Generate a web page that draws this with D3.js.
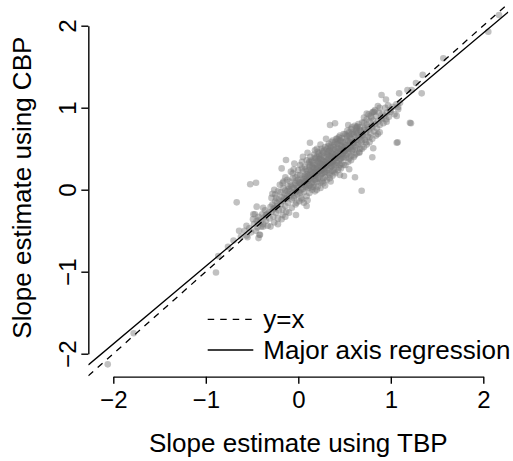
<!DOCTYPE html>
<html>
<head>
<meta charset="utf-8">
<script src="https://cdn.jsdelivr.net/npm/d3@7"></script>
<style>
  html, body { margin: 0; padding: 0; background: #fff; }
  svg { display: block; font-family: "Liberation Sans", Arial, Helvetica, sans-serif; }
</style>
</head>
<body>
<svg id="chart" width="513" height="461"></svg>
<script>
// ---- data ----
const xTicks = [-2, -1, 0, 1, 2];
const yTicks = [-2, -1, 0, 1, 2];
const xLabel = "Slope estimate using TBP";
const yLabel = "Slope estimate using CBP";
const legendLabels = ["y=x", "Major axis regression"];
// major axis regression fit (slope, intercept)
const maSlope = 0.948;
const maIntercept = 0.015;

// outlying / sparse points
const sparsePoints = [
  [-2.06,-2.13],[-1.78,-1.75],[-0.89,-1.01],[-0.865,-0.81],[-0.76,-0.695],[-0.70,-0.62],
  [-0.666,-0.154],[-0.558,-0.56],[-0.52,0.066],[-0.457,0.085],[-0.43,-0.59],[-0.45,-0.207],
  [0.685,-0.012],[1.064,0.573],[1.218,0.81],[1.064,0.90],[1.334,1.175],[1.345,1.40],
  [1.272,1.30],[1.18,1.216],[1.568,1.602],[2.054,1.927],[2.17,2.13],[0.948,1.10],
  [0.955,0.83],[1.08,1.01],[-0.486,-0.30],[-0.43,-0.37],[-0.378,-0.45],[-0.414,-0.55],
  [-0.252,-0.227],[-0.169,-0.309],[-0.025,-0.309],[0.09,-0.199],
  [-0.18,0.26],[-0.133,0.362],[-0.043,0.32],[0.126,0.573],[0.05,0.40],[0.10,0.45],
  [0.20,0.50],[0.24,0.55],[0.343,0.789],[0.397,0.81],[0.54,0.789],[0.63,0.768],[0.30,0.62],[0.18,0.48],
  [0.613,0.151],[0.494,0.167],[0.81,0.505],[0.80,0.395],[0.55,0.25],[0.45,0.18],[0.35,0.10],
  [0.74,0.93],[0.81,0.95],[0.90,1.155],[1.09,1.175],[1.226,1.216],[1.207,0.817],[1.074,0.578],
  [-0.62,-0.57],[-0.64,-0.50]
];

// dense band of points (near the fit line)
const densePoints = [
  [-0.58,-0.50],[-0.55,-0.58],[-0.53,-0.47],[-0.56,-0.44],[-0.51,-0.52],
  [-0.48,-0.42],[-0.46,-0.50],[-0.45,-0.38],[-0.44,-0.46],[-0.43,-0.33],[-0.42,-0.55],[-0.41,-0.40],[-0.47,-0.30],[-0.49,-0.36],[-0.40,-0.45],
  [-0.39,-0.30],[-0.38,-0.42],[-0.37,-0.34],[-0.36,-0.25],[-0.35,-0.38],[-0.34,-0.30],[-0.33,-0.44],[-0.32,-0.28],[-0.31,-0.35],[-0.38,-0.22],[-0.35,-0.31],[-0.30,-0.21],
  [-0.29,-0.27],[-0.28,-0.18],[-0.27,-0.33],[-0.26,-0.22],[-0.25,-0.14],[-0.24,-0.28],[-0.23,-0.20],[-0.22,-0.35],[-0.21,-0.12],[-0.29,-0.10],[-0.27,-0.24],[-0.25,-0.06],[-0.23,-0.16],[-0.21,-0.25],
  [-0.19,-0.18],[-0.18,-0.09],[-0.17,-0.24],[-0.16,-0.13],[-0.15,-0.05],[-0.14,-0.20],[-0.13,-0.11],[-0.12,-0.02],[-0.11,-0.16],[-0.19,-0.03],[-0.18,-0.14],[-0.16,0.02],[-0.15,-0.10],[-0.13,-0.27],[-0.12,-0.07],[-0.11,0.04],[-0.17,0.08],[-0.14,-0.01],
  [-0.10,-0.09],[-0.09,-0.02],[-0.08,0.05],[-0.07,-0.12],[-0.06,-0.04],[-0.05,0.02],[-0.04,-0.08],[-0.03,0.08],[-0.02,-0.01],[-0.01,0.04],[-0.10,0.01],[-0.09,0.10],[-0.08,-0.06],[-0.07,0.03],[-0.06,0.14],[-0.05,-0.10],[-0.04,0.06],[-0.03,-0.03],[-0.02,0.11],[-0.01,-0.06],[-0.06,0.20],[-0.02,-0.16],
  [0.00,0.02],[0.01,0.09],[0.02,-0.04],[0.03,0.06],[0.04,0.14],[0.05,0.01],[0.06,0.08],[0.07,0.17],[0.08,0.03],[0.09,0.11],[0.00,0.12],[0.01,-0.02],[0.02,0.18],[0.03,0.00],[0.04,0.07],[0.05,0.22],[0.06,-0.03],[0.07,0.10],[0.08,0.15],[0.09,0.04],[0.02,0.08],[0.04,0.26],[0.06,0.13],[0.08,0.25],[0.03,-0.10],[0.07,0.05],[0.09,0.19],[0.05,0.10],
  [0.10,0.10],[0.11,0.18],[0.12,0.05],[0.13,0.14],[0.14,0.22],[0.15,0.09],[0.16,0.16],[0.17,0.26],[0.18,0.12],[0.19,0.20],[0.10,0.23],[0.11,0.02],[0.12,0.15],[0.13,0.30],[0.14,0.08],[0.15,0.19],[0.16,0.27],[0.17,0.06],[0.18,0.22],[0.19,0.13],[0.10,0.16],[0.12,0.24],[0.14,0.13],[0.16,0.21],[0.18,0.30],[0.11,0.11],[0.13,0.20],[0.15,0.28],[0.17,0.17],[0.19,0.26],[0.12,0.34],[0.16,0.03],[0.18,0.17],[0.14,0.36],[0.20,0.09],
  [0.20,0.20],[0.21,0.27],[0.22,0.15],[0.23,0.24],[0.24,0.32],[0.25,0.19],[0.26,0.26],[0.27,0.35],[0.28,0.21],[0.29,0.29],[0.20,0.31],[0.21,0.13],[0.22,0.23],[0.23,0.38],[0.24,0.17],[0.25,0.28],[0.26,0.36],[0.27,0.14],[0.28,0.30],[0.29,0.22],[0.20,0.25],[0.22,0.33],[0.24,0.23],[0.26,0.31],[0.28,0.40],[0.21,0.21],[0.23,0.29],[0.25,0.42],[0.27,0.25],[0.29,0.34],[0.22,0.44],[0.24,0.09],[0.26,0.20],[0.28,0.26],[0.21,0.35],[0.25,0.24],[0.27,0.31],[0.29,0.15],
  [0.30,0.29],[0.31,0.36],[0.32,0.24],[0.33,0.33],[0.34,0.41],[0.35,0.28],[0.36,0.35],[0.37,0.44],[0.38,0.30],[0.39,0.38],[0.30,0.40],[0.31,0.21],[0.32,0.32],[0.33,0.47],[0.34,0.26],[0.35,0.37],[0.36,0.45],[0.37,0.23],[0.38,0.39],[0.39,0.31],[0.30,0.34],[0.32,0.42],[0.34,0.32],[0.36,0.40],[0.38,0.49],[0.31,0.30],[0.33,0.38],[0.35,0.51],[0.37,0.34],[0.39,0.43],[0.32,0.53],[0.34,0.18],[0.36,0.29],[0.38,0.35],[0.31,0.44],[0.35,0.33],[0.37,0.40],[0.39,0.24],
  [0.40,0.38],[0.41,0.45],[0.42,0.33],[0.43,0.42],[0.44,0.50],[0.45,0.37],[0.46,0.44],[0.47,0.53],[0.48,0.39],[0.49,0.47],[0.40,0.49],[0.41,0.30],[0.42,0.41],[0.43,0.56],[0.44,0.35],[0.45,0.46],[0.46,0.54],[0.47,0.32],[0.48,0.48],[0.49,0.40],[0.40,0.43],[0.42,0.51],[0.44,0.41],[0.46,0.49],[0.48,0.58],[0.41,0.39],[0.43,0.47],[0.45,0.60],[0.47,0.43],[0.49,0.52],[0.42,0.62],[0.44,0.27],[0.46,0.38],[0.48,0.44],
  [0.50,0.47],[0.51,0.54],[0.52,0.42],[0.53,0.51],[0.54,0.59],[0.55,0.46],[0.56,0.53],[0.57,0.62],[0.58,0.48],[0.59,0.56],[0.50,0.58],[0.51,0.39],[0.52,0.50],[0.53,0.65],[0.54,0.44],[0.55,0.55],[0.56,0.63],[0.57,0.41],[0.58,0.57],[0.59,0.49],[0.50,0.52],[0.52,0.60],[0.54,0.50],[0.56,0.58],[0.58,0.68],[0.51,0.48],[0.55,0.70],[0.57,0.52],
  [0.60,0.57],[0.61,0.64],[0.62,0.52],[0.63,0.61],[0.64,0.69],[0.65,0.56],[0.66,0.63],[0.67,0.72],[0.68,0.58],[0.69,0.66],[0.60,0.68],[0.61,0.49],[0.62,0.60],[0.63,0.75],[0.64,0.54],[0.65,0.65],[0.66,0.73],[0.67,0.50],[0.68,0.67],[0.69,0.60],[0.62,0.70],[0.66,0.45],
  [0.70,0.66],[0.71,0.73],[0.72,0.61],[0.73,0.70],[0.74,0.79],[0.75,0.65],[0.76,0.73],[0.77,0.83],[0.78,0.69],[0.79,0.77],[0.71,0.82],[0.73,0.58],[0.75,0.76],[0.77,0.64],[0.79,0.88],[0.72,0.75],
  [0.80,0.76],[0.81,0.84],[0.82,0.71],[0.83,0.80],[0.84,0.90],[0.85,0.75],[0.86,0.83],[0.87,0.94],[0.88,0.79],[0.89,0.87],[0.82,0.95],[0.86,0.68],
  [0.90,0.86],[0.91,0.93],[0.92,0.81],[0.93,0.90],[0.94,1.00],[0.95,0.86],[0.96,0.94],[0.97,1.03],[0.98,0.89],[0.99,0.97],
  [1.00,0.95],[1.02,1.01],[1.04,0.92],[1.06,1.04],[1.08,0.98],[1.10,1.06]
];

// wider shoulder of the band (above and below the fit line)
const shoulderPoints = [
  [-0.28,-0.05],[-0.26,0.00],[-0.22,-0.02],[-0.20,0.06],[-0.16,0.10],[-0.12,0.12],[-0.24,-0.10],[-0.14,0.15],
  [-0.26,-0.40],[-0.22,-0.42],[-0.18,-0.36],[-0.14,-0.33],[-0.10,-0.28],[-0.30,-0.45],
  [-0.08,0.22],[-0.05,0.25],[-0.01,0.18],[0.02,0.30],[0.04,0.34],[0.07,0.28],[0.09,0.36],[0.00,0.24],[-0.03,0.15],
  [-0.07,-0.22],[-0.03,-0.18],[0.01,-0.14],[0.04,-0.12],[0.06,-0.16],[0.09,-0.08],[0.10,-0.13],
  [0.11,0.32],[0.13,0.40],[0.15,0.35],[0.17,0.43],[0.19,0.38],[0.21,0.46],[0.23,0.42],[0.25,0.50],[0.27,0.45],[0.29,0.52],
  [0.12,0.28],[0.16,0.33],[0.20,0.40],[0.24,0.38],[0.28,0.48],[0.18,0.39],[0.22,0.37],[0.26,0.47],
  [0.12,-0.04],[0.15,0.00],[0.18,-0.02],[0.21,0.04],[0.24,0.02],[0.27,0.08],[0.29,0.05],[0.14,0.03],[0.20,0.00],[0.26,0.10],
  [0.31,0.50],[0.33,0.56],[0.35,0.53],[0.37,0.60],[0.39,0.55],[0.41,0.62],[0.43,0.60],[0.45,0.66],[0.47,0.63],[0.49,0.68],
  [0.34,0.48],[0.38,0.52],[0.42,0.56],[0.46,0.60],[0.36,0.58],[0.44,0.64],[0.32,0.46],[0.40,0.58],
  [0.31,0.12],[0.34,0.14],[0.37,0.17],[0.40,0.20],[0.43,0.24],[0.46,0.26],[0.49,0.30],[0.33,0.20],[0.39,0.22],[0.45,0.30],
  [0.51,0.68],[0.53,0.72],[0.55,0.66],[0.57,0.74],[0.59,0.70],[0.61,0.78],[0.63,0.72],[0.65,0.80],[0.67,0.76],[0.69,0.82],[0.52,0.66],[0.58,0.76],[0.64,0.77],
  [0.51,0.30],[0.54,0.34],[0.57,0.36],[0.60,0.40],[0.63,0.44],[0.66,0.46],[0.69,0.50],[0.55,0.38],[0.61,0.42],
  [0.71,0.88],[0.74,0.86],[0.76,0.92],[0.78,0.90],[0.80,0.94],[0.83,0.97],[0.86,1.02],[0.88,1.00],
  [0.71,0.52],[0.74,0.55],[0.77,0.58],[0.80,0.62],[0.84,0.66],[0.88,0.70]
];

// ---- drawing ----
const svg = d3.select("#chart");
const x = d3.scaleLinear().domain([-2, 2]).range([113.3, 483.3]);
const y = d3.scaleLinear().domain([-2, 2]).range([353.7, 25.7]);
const plotDomainX = [-2.27, 2.27];
const plotDomainY = [-2.28, 2.32];
const xAxisY = y(plotDomainY[0]);   // bottom edge of plot region
const yAxisX = x(plotDomainX[0]);   // left edge of plot region

svg.append("defs").append("clipPath").attr("id", "plotClip")
  .append("rect")
  .attr("x", x(plotDomainX[0])).attr("y", y(plotDomainY[1]))
  .attr("width", x(plotDomainX[1]) - x(plotDomainX[0]))
  .attr("height", y(plotDomainY[0]) - y(plotDomainY[1]));

const plot = svg.append("g").attr("clip-path", "url(#plotClip)");

const allPoints = sparsePoints.concat(densePoints, shoulderPoints);
plot.append("g").selectAll("circle").data(allPoints).join("circle")
  .attr("cx", d => x(d[0])).attr("cy", d => y(d[1]))
  .attr("r", 3.3)
  .attr("fill", "#7c7c7c")
  .attr("fill-opacity", 0.47);

// y = x dashed
plot.append("line")
  .attr("x1", x(plotDomainX[0])).attr("y1", y(plotDomainX[0]))
  .attr("x2", x(plotDomainX[1])).attr("y2", y(plotDomainX[1]))
  .attr("stroke", "#000").attr("stroke-width", 1.3)
  .attr("stroke-dasharray", "6.5,6");

// major axis regression solid
plot.append("line")
  .attr("x1", x(plotDomainX[0])).attr("y1", y(maIntercept + maSlope * plotDomainX[0]))
  .attr("x2", x(plotDomainX[1])).attr("y2", y(maIntercept + maSlope * plotDomainX[1]))
  .attr("stroke", "#000").attr("stroke-width", 1.3);

const fmt = d => d < 0 ? "\u2212" + Math.abs(d) : String(d);

// x axis
const gx = svg.append("g").attr("transform", `translate(0,${xAxisY})`)
  .call(d3.axisBottom(x).tickValues(xTicks).tickSize(7).tickSizeOuter(0).tickPadding(7).tickFormat(fmt));
gx.select(".domain").attr("stroke-width", 1.4);
gx.selectAll(".tick line").attr("stroke-width", 1.4);
gx.selectAll(".tick text").attr("font-size", 24).attr("fill", "#000")
  .attr("font-family", "Liberation Sans, Arial, sans-serif");

// y axis
const gy = svg.append("g").attr("transform", `translate(${yAxisX},0)`)
  .call(d3.axisLeft(y).tickValues(yTicks).tickSize(7).tickSizeOuter(0).tickFormat(fmt));
gy.select(".domain").attr("stroke-width", 1.4);
gy.selectAll(".tick line").attr("stroke-width", 1.4);
gy.selectAll(".tick text")
  .attr("font-size", 24).attr("fill", "#000")
  .attr("font-family", "Liberation Sans, Arial, sans-serif")
  .attr("text-anchor", "middle")
  .attr("x", 0).attr("y", -12).attr("dy", 0)
  .attr("transform", "rotate(-90)");

// axis titles
svg.append("text")
  .attr("x", (x(-2) + x(2)) / 2).attr("y", 452)
  .attr("text-anchor", "middle").attr("font-size", 26).attr("fill", "#000")
  .text(xLabel);
svg.append("text")
  .attr("transform", `translate(31,${(y(-2) + y(2)) / 2 - 2}) rotate(-90)`)
  .attr("text-anchor", "middle").attr("font-size", 26).attr("fill", "#000")
  .text(yLabel);

// legend
const legend = svg.append("g");
const legendRows = [
  { label: legendLabels[0], dash: "6.5,6", cy: 319.3 },
  { label: legendLabels[1], dash: null, cy: 350 }
];
legendRows.forEach(r => {
  const ln = legend.append("line")
    .attr("x1", 207.7).attr("x2", 253.3).attr("y1", r.cy).attr("y2", r.cy)
    .attr("stroke", "#000").attr("stroke-width", 1.3);
  if (r.dash) ln.attr("stroke-dasharray", r.dash);
  legend.append("text").attr("x", 263.3).attr("y", r.cy + 8.5)
    .attr("font-size", 26).attr("fill", "#000").text(r.label);
});
</script>
</body>
</html>
